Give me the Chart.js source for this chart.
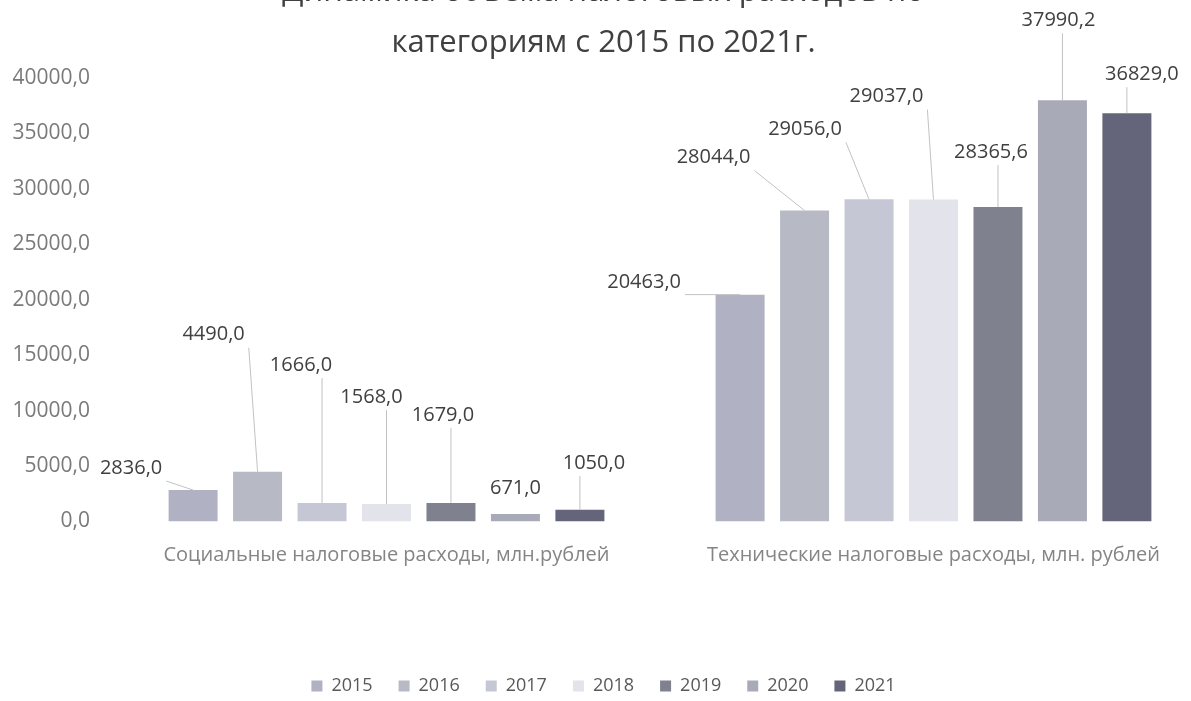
<!DOCTYPE html>
<html lang="ru">
<head>
<meta charset="utf-8">
<title>Динамика налоговых расходов</title>
<script src="https://cdn.jsdelivr.net/npm/chart.js@4.4.1/dist/chart.umd.min.js"></script>
<style>
  html, body { margin: 0; padding: 0; background: #fff; overflow: hidden; }
  #wrap { position: absolute; left: 0; top: -40px; width: 1210px; height: 770px; }
</style>
</head>
<body>
<div id="wrap"><canvas id="taxChart"></canvas></div>
<script>
const titleLines = ['Динамика объема налоговых расходов по', 'категориям с 2015 по 2021г.'];
const categories = ['Социальные налоговые расходы, млн.рублей', 'Технические налоговые расходы, млн. рублей'];
const years = ['2015', '2016', '2017', '2018', '2019', '2020', '2021'];
const socialValues = [2836.0, 4490.0, 1666.0, 1568.0, 1679.0, 671.0, 1050.0];
const technicalValues = [20463.0, 28044.0, 29056.0, 29037.0, 28365.6, 37990.2, 36829.0];
const yearColors = ['#b0b1c3', '#b7b9c5', '#c6c7d4', '#e3e3eb', '#80818f', '#a9aab7', '#64647a'];

// label placement (dx, dy from top of bar), one row per category
const labelOffsets = [
  [[-62, -22], [-44, -137], [-21, -138], [-15, -107], [-8, -88], [0, -26], [14, -47]],
  [[-96, -12], [-91, -53], [-64, -70], [-47, -103], [-7, -55], [-4, -80], [15, -39]]
];

function formatValue(value) {
  return value.toFixed(1).replace('.', ',');
}

const leaderLabels = {
  id: 'leaderLabels',
  afterDatasetsDraw(chart) {
    const ctx = chart.ctx;
    ctx.save();
    ctx.font = '20px "Open Sans"';
    ctx.textAlign = 'center';
    ctx.textBaseline = 'middle';
    chart.data.datasets.forEach((dataset, i) => {
      const meta = chart.getDatasetMeta(i);
      meta.data.forEach((bar, j) => {
        const off = labelOffsets[j][i];
        const lx = bar.x + off[0];
        const ly = bar.y + off[1];
        const text = formatValue(dataset.data[j]);
        const w = ctx.measureText(text).width;
        const h = 20;
        const px = Math.min(Math.max(bar.x, lx - w / 2 - 4), lx + w / 2 + 4);
        const py = Math.min(Math.max(bar.y, ly - h / 2 - 3), ly + h / 2 + 3);
        if (Math.hypot(bar.x - px, bar.y - py) > 16) {
          ctx.strokeStyle = '#c2c2c2';
          ctx.lineWidth = 1;
          ctx.beginPath();
          ctx.moveTo(px, py);
          ctx.lineTo(bar.x, bar.y);
          ctx.stroke();
        }
        ctx.fillStyle = '#404040';
        ctx.fillText(text, lx, ly);
      });
    });
    ctx.restore();
  }
};

function createTaxChart(canvasId) {
  Chart.defaults.font.family = "'Open Sans', sans-serif";

  const datasets = years.map((year, i) => {
    return {
      label: year,
      data: [socialValues[i], technicalValues[i]],
      backgroundColor: yearColors[i],
      borderWidth: 0,
      categoryPercentage: 0.825,
      barPercentage: 0.76
    };
  });

  const ctx = document.getElementById(canvasId).getContext('2d');
  new Chart(ctx, {
    type: 'bar',
    data: {
      labels: categories,
      datasets: datasets
    },
    options: {
      responsive: true,
      maintainAspectRatio: false,
      animation: false,
      layout: {
        padding: { top: 0, left: 0, right: 3, bottom: 25 }
      },
      scales: {
        x: {
          grid: { display: false, drawTicks: false },
          border: { display: false },
          ticks: {
            color: '#858585',
            padding: 22,
            font: { size: 20 }
          },
          afterFit: (scale) => { scale.height = 129.5; }
        },
        y: {
          min: 0,
          max: 40000,
          grid: { display: false, drawTicks: false },
          border: { display: false },
          ticks: {
            stepSize: 5000,
            color: '#7a7a7a',
            padding: 23,
            font: { size: 21 },
            callback: (value) => formatValue(value)
          },
          afterFit: (scale) => { scale.width = 113; }
        }
      },
      plugins: {
        title: {
          display: true,
          text: titleLines,
          color: '#404040',
          font: { size: 31, weight: 'normal', lineHeight: 1.67 },
          padding: { top: 5.8, bottom: 8.7 }
        },
        legend: {
          position: 'bottom',
          labels: {
            boxWidth: 11,
            boxHeight: 11,
            padding: 26,
            color: '#595959',
            font: { size: 18 }
          }
        },
        tooltip: { enabled: false }
      }
    },
    plugins: [leaderLabels]
  });
}

document.addEventListener('DOMContentLoaded', () => createTaxChart('taxChart'));
</script>
</body>
</html>
